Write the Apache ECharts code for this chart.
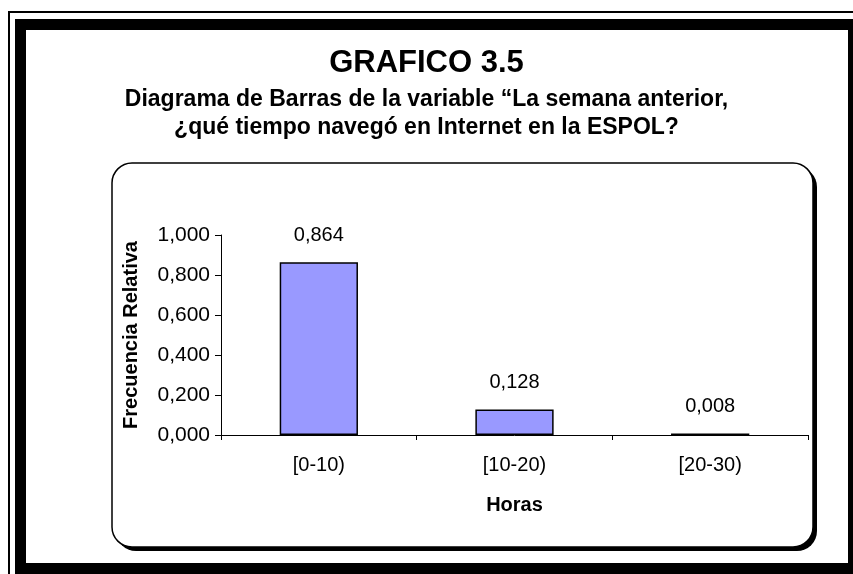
<!DOCTYPE html>
<html>
<head>
<meta charset="utf-8">
<script src="https://cdn.jsdelivr.net/npm/echarts@6/dist/echarts.min.js"></script>
<style>
  html, body { margin: 0; padding: 0; background: #fff; }
  #chart { width: 853px; height: 574px; }
</style>
</head>
<body>
<div id="chart"></div>
<script>
const categories = ['[0-10)', '[10-20)', '[20-30)']
const frequencies = [0.864, 0.128, 0.008]

const titleText = 'GRAFICO 3.5'
const subtitleLines = [
  'Diagrama de Barras de la variable “La semana anterior,',
  '¿qué tiempo navegó en Internet en la ESPOL?',
]
const xName = 'Horas'
const yName = 'Frecuencia Relativa'

const font = "'Liberation Sans', Arial, sans-serif"
const fmt = v => v.toFixed(3).replace('.', ',')

const chart = echarts.init(document.getElementById('chart'))

chart.setOption({
  backgroundColor: '#fff',
  animation: false,
  textStyle: { fontFamily: font, color: '#000' },
  title: [
    {
      text: titleText,
      left: 'center',
      top: 47,
      padding: 0,
      textStyle: { fontFamily: font, fontSize: 31, fontWeight: 'bold', color: '#000', lineHeight: 32 },
    },
    // subtitle, one centred title per line
    ...subtitleLines.map((line, i) => ({
      text: line,
      left: 'center',
      top: 87 + i * 28,
      padding: 0,
      textStyle: { fontFamily: font, fontSize: 23, fontWeight: 'bold', color: '#000', lineHeight: 26 },
    })),
  ],
  graphic: [
    // outer thin line
    {
      type: 'polyline',
      z: -10,
      shape: { points: [[9, 574], [9, 12], [853, 12]] },
      style: { stroke: '#000', lineWidth: 2, fill: null },
    },
    // thick frame
    {
      type: 'rect',
      z: -10,
      shape: { x: 20.5, y: 24.5, width: 833, height: 544 },
      style: { stroke: '#000', lineWidth: 11, fill: '#fff' },
    },
    // rounded box shadow
    {
      type: 'rect',
      z: -9,
      shape: { x: 116, y: 167, width: 701, height: 384, r: 20 },
      style: { fill: '#000' },
    },
    // rounded box
    {
      type: 'rect',
      z: -8,
      shape: { x: 112, y: 163, width: 701, height: 384, r: 20 },
      style: { fill: '#fff', stroke: '#000', lineWidth: 1.5 },
    },
  ],
  grid: {
    left: 221,
    right: 45,
    top: 235,
    bottom: 139,
    containLabel: false,
  },
  xAxis: {
    type: 'category',
    data: categories,
    name: xName,
    nameLocation: 'middle',
    nameGap: 60,
    nameTextStyle: { fontFamily: font, fontSize: 20, fontWeight: 'bold', color: '#000' },
    axisLine: { lineStyle: { color: '#000', width: 1 } },
    axisTick: { show: true, length: 5, lineStyle: { color: '#000' } },
    axisLabel: { fontFamily: font, fontSize: 20, color: '#000', margin: 20 },
  },
  yAxis: {
    type: 'value',
    min: 0,
    max: 1,
    interval: 0.2,
    name: yName,
    nameLocation: 'middle',
    nameGap: 80,
    nameRotate: 90,
    nameTextStyle: { fontFamily: font, fontSize: 20, fontWeight: 'bold', color: '#000' },
    axisLine: { show: true, lineStyle: { color: '#000', width: 1 } },
    axisTick: { show: true, length: 6, lineStyle: { color: '#000' } },
    splitLine: { show: false },
    axisLabel: {
      fontFamily: font,
      fontSize: 21,
      color: '#000',
      margin: 11,
      formatter: v => fmt(v),
    },
  },
  series: [
    {
      type: 'bar',
      data: frequencies,
      barWidth: '40%',
      itemStyle: { color: '#9999FF', borderColor: '#000', borderWidth: 1.5 },
      label: {
        show: true,
        position: 'top',
        distance: 17,
        fontFamily: font,
        fontSize: 20,
        color: '#000',
        formatter: p => fmt(p.value),
      },
    },
  ],
})
</script>
</body>
</html>
